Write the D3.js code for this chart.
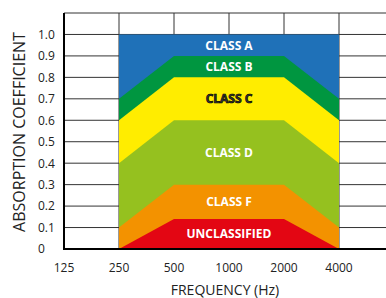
<!DOCTYPE html>
<html>
<head>
<meta charset="utf-8">
<script src="https://cdn.jsdelivr.net/npm/d3@7"></script>
<style>
  html, body { margin: 0; padding: 0; background: #fff; }
  svg { display: block; font-family: "Open Sans", "Noto Sans", sans-serif; }
</style>
</head>
<body>
<div id="chart"></div>
<script>
// frequency bands (Hz)
const tickFreqs = [125, 250, 500, 1000, 2000, 4000, 8000];
const freqs = [250, 500, 1000, 2000, 4000];
const yTicks = [0, 0.1, 0.2, 0.3, 0.4, 0.5, 0.6, 0.7, 0.8, 0.9, 1.0];

const classNames = ["CLASS A", "CLASS B", "CLASS C", "CLASS D", "CLASS F", "UNCLASSIFIED"];
const classColors = ["#1f71b8", "#009640", "#ffed00", "#95c11f", "#f39200", "#e30613"];
// upper edge of each class band, per frequency
const classA = [1.0, 1.0, 1.0, 1.0, 1.0];
const classB = [0.7, 0.9, 0.9, 0.9, 0.7];
const classC = [0.6, 0.8, 0.8, 0.8, 0.6];
const classD = [0.4, 0.6, 0.6, 0.6, 0.4];
const classF = [0.1, 0.3, 0.3, 0.3, 0.1];
const unclassified = [0, 0.14, 0.14, 0.14, 0];
const classTops = [classA, classB, classC, classD, classF, unclassified];

const width = 386, height = 298;
const margin = { top: 13, left: 64, bottom: 49 };

const svg = d3.select("#chart").append("svg")
  .attr("width", width)
  .attr("height", height);

const x = d3.scaleLog().base(2)
  .domain([125, 8000])
  .range([margin.left, margin.left + 55 * 6]);

const y = d3.scaleLinear()
  .domain([0, 1.1])
  .range([height - margin.bottom, margin.top]);

// grid
const grid = svg.append("g").attr("class", "grid");
grid.selectAll("line.h")
  .data(yTicks.concat([1.1]))
  .enter().append("line")
  .attr("class", "h")
  .attr("x1", margin.left).attr("x2", width)
  .attr("y1", d => y(d)).attr("y2", d => y(d))
  .attr("stroke", "#333").attr("stroke-width", 1);
grid.selectAll("line.v")
  .data(tickFreqs)
  .enter().append("line")
  .attr("class", "v")
  .attr("x1", d => x(d)).attr("x2", d => x(d))
  .attr("y1", y(0)).attr("y2", y(1.1))
  .attr("stroke", "#333").attr("stroke-width", 1);

// class bands, drawn from the top class down
const area = d3.area()
  .x((d, i) => x(freqs[i]))
  .y0(y(0))
  .y1(d => y(d));

svg.append("g").attr("class", "bands")
  .selectAll("path")
  .data(classTops)
  .enter().append("path")
  .attr("d", d => area(d))
  .attr("fill", (d, i) => classColors[i]);

// labels in the middle of each band at 1000 Hz
const mid = freqs.indexOf(1000);
svg.append("g").attr("class", "labels")
  .selectAll("text")
  .data(classNames)
  .enter().append("text")
  .attr("x", x(1000))
  .attr("y", (d, i) => {
    const top = classTops[i][mid];
    const bottom = i + 1 < classTops.length ? classTops[i + 1][mid] : 0;
    return y((top + bottom) / 2);
  })
  .attr("dy", "0.36em")
  .attr("text-anchor", "middle")
  .style("font-size", "12px")
  .style("font-weight", "bold")
  .attr("fill", (d, i) => i === 2 ? "#3a3a3a" : "#fff")
  .attr("stroke", (d, i) => i === 2 ? "#000" : "none")
  .attr("stroke-width", 0.7)
  .text(d => d);

// axis lines
svg.append("line")
  .attr("x1", margin.left).attr("x2", margin.left)
  .attr("y1", y(1.1)).attr("y2", y(0) + 1)
  .attr("stroke", "#000").attr("stroke-width", 2);
svg.append("line")
  .attr("x1", margin.left).attr("x2", width)
  .attr("y1", y(0)).attr("y2", y(0))
  .attr("stroke", "#000").attr("stroke-width", 2);

// tick labels
svg.append("g").selectAll("text")
  .data(yTicks)
  .enter().append("text")
  .attr("x", 38)
  .attr("y", d => y(d))
  .attr("dy", "0.36em")
  .style("font-size", "12px")
  .attr("fill", "#222")
  .text(d => d === 0 ? "0" : d.toFixed(1));

svg.append("g").selectAll("text")
  .data(tickFreqs.slice(0, 6))
  .enter().append("text")
  .attr("x", d => x(d))
  .attr("y", 272)
  .attr("text-anchor", "middle")
  .style("font-size", "12px")
  .attr("fill", "#222")
  .text(d => d);

// axis titles
svg.append("text")
  .attr("transform", "translate(25," + 132 + ") rotate(-90)")
  .attr("text-anchor", "middle")
  .style("font-size", "16px")
  .attr("fill", "#222")
  .text("ABSORPTION COEFFICIENT");

svg.append("text")
  .attr("x", 225)
  .attr("y", 295)
  .attr("text-anchor", "middle")
  .style("font-size", "14px")
  .attr("fill", "#222")
  .text("FREQUENCY (Hz)");
</script>
</body>
</html>
